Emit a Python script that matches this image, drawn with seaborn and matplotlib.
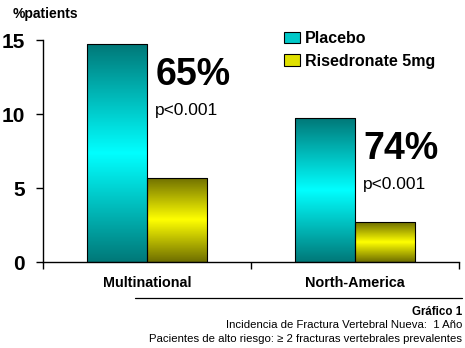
import numpy as np
import pandas as pd
import matplotlib
matplotlib.use("Agg")
import matplotlib.pyplot as plt
import seaborn as sns
from matplotlib.colors import LinearSegmentedColormap
from matplotlib.patches import Patch

regions = ["Multinational", "North-America"]
series = ["Placebo", "Risedronate 5mg"]
placebo = [14.7, 9.7]
risedronate = [5.7, 2.7]
reductions = ["65%", "74%"]
pvalues = ["p<0.001", "p<0.001"]
yticks = [0, 5, 10, 15]

df = pd.DataFrame({
    "region": regions * 2,
    "group": [series[0]] * 2 + [series[1]] * 2,
    "value": placebo + risedronate,
})

sns.set_style("white")
plt.rcParams["font.family"] = ["Liberation Sans", "DejaVu Sans"]
plt.rcParams["text.color"] = "black"
plt.rcParams["xtick.color"] = "black"
plt.rcParams["ytick.color"] = "black"

fig = plt.figure(figsize=(4.65, 3.48), dpi=100)
ax = fig.add_axes([43 / 465, 86 / 348, (459 - 43) / 465, (262 - 40) / 348])

palette = {"Placebo": "#00c8c8", "Risedronate 5mg": "#e0e000"}
sns.barplot(data=df, x="region", y="value", hue="group", hue_order=series,
            order=regions, palette=palette, width=0.58, edgecolor="black",
            linewidth=0.8, ax=ax, legend=False, saturation=1)

# vertical gradients clipped to bars
cmaps = {
    "Placebo": LinearSegmentedColormap.from_list("t", ["#007878", "#00ffff", "#007878"]),
    "Risedronate 5mg": LinearSegmentedColormap.from_list("y", ["#6e6e00", "#ffff00", "#6e6e00"]),
}
grad = np.linspace(0, 1, 256).reshape(-1, 1)
for i, p in enumerate(ax.patches):
    grp = series[0] if i < len(regions) else series[1]
    x0, y0 = p.get_x(), p.get_y()
    w, h = p.get_width(), p.get_height()
    im = ax.imshow(grad, cmap=cmaps[grp], aspect="auto",
                   extent=(x0, x0 + w, y0, y0 + h), origin="lower", zorder=p.get_zorder() + 0.1)
    im.set_clip_path(p)
    p.set_facecolor("none")
    p.set_zorder(p.get_zorder() + 0.2)

ax.set_xlim(-0.5, 1.5)
ax.set_ylim(0, 15)
ax.set_yticks(yticks)
ax.set_yticklabels([str(t) for t in yticks], fontsize=15, fontweight="bold")
ax.set_xticks([0, 1])
ax.set_xticklabels(regions, fontsize=10.4, fontweight="bold")
ax.set_xticks([-0.5, 0.5, 1.5], minor=True)
ax.tick_params(axis="x", which="major", bottom=True, length=0, pad=10)
ax.tick_params(axis="x", which="minor", bottom=True, length=5, width=1, direction="out", color="black")
ax.tick_params(axis="y", which="major", left=True, length=5, width=1, direction="out", color="black", pad=8)
ax.set_xlabel("")
ax.set_ylabel("")
for s in ["top", "right"]:
    ax.spines[s].set_visible(False)
for s in ["left", "bottom"]:
    ax.spines[s].set_color("black")
    ax.spines[s].set_linewidth(1)

for i, r in enumerate(regions):
    ax.text(i + 0.04, placebo[i] - 0.85, reductions[i], fontsize=27, fontweight="bold",
            ha="left", va="top")
    ax.text(i + 0.04, placebo[i] - 3.95, pvalues[i], fontsize=12.5, ha="left", va="top")

handles = [Patch(facecolor=palette[s], edgecolor="black", linewidth=0.8) for s in series]
leg = fig.legend(handles, series, loc="upper left", bbox_to_anchor=(270 / 465, 1 - 17 / 348),
                 frameon=False, prop={"weight": "bold", "size": 11.5},
                 handlelength=1.0, handleheight=0.7, handletextpad=0.3, labelspacing=0.45)

fig.text(13 / 465, 1 - 14 / 348, "%patients", fontsize=10, fontweight="bold", va="center")

fig.add_artist(plt.Line2D([135 / 465, 462 / 465], [1 - 298 / 348, 1 - 298 / 348],
                          color="black", linewidth=0.9))
fig.text(462 / 465, 1 - 312 / 348, "Gráfico 1", fontsize=8.3, fontweight="bold", ha="right", va="center")
fig.text(462 / 465, 1 - 325 / 348, "Incidencia de Fractura Vertebral Nueva:  1 Año",
         fontsize=8.2, ha="right", va="center")
fig.text(462 / 465, 1 - 339 / 348, "Pacientes de alto riesgo: ≥ 2 fracturas vertebrales prevalentes",
         fontsize=8.2, ha="right", va="center")

fig.savefig("out.png", dpi=100)
